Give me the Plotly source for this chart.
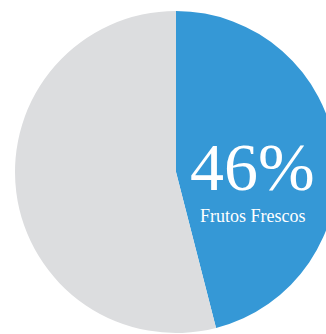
import plotly.graph_objects as go

# Share of the basket
labels = ["Frutos Frescos", "Otros"]
values = [46, 54]
colors = ["#3598D6", "#DCDDDF"]

highlight = labels[0]
highlight_pct = round(100 * values[0] / sum(values))

W, H = 352, 334

fig = go.Figure(
    go.Pie(
        labels=labels,
        values=values,
        sort=False,
        direction="clockwise",
        rotation=0,
        marker=dict(colors=colors, line=dict(width=0)),
        textinfo="none",
        hoverinfo="label+percent",
        showlegend=False,
        domain=dict(x=[0, 1], y=[0, 1]),
    )
)

# Big percentage and caption inside the highlighted slice
fig.add_annotation(
    x=252 / W, y=1 - 162 / H, xref="paper", yref="paper",
    xanchor="center", yanchor="middle",
    text=f"{highlight_pct}%", showarrow=False,
    font=dict(family="Liberation Serif", size=68, color="white"),
)
fig.add_annotation(
    x=253 / W, y=1 - 213 / H, xref="paper", yref="paper",
    xanchor="center", yanchor="middle",
    text=highlight, showarrow=False,
    font=dict(family="Liberation Serif", size=18, color="white"),
)

fig.update_layout(
    width=W, height=H,
    margin=dict(l=0, r=0, t=11, b=1),
    paper_bgcolor="white",
    plot_bgcolor="white",
)

fig.write_html("out.html")
